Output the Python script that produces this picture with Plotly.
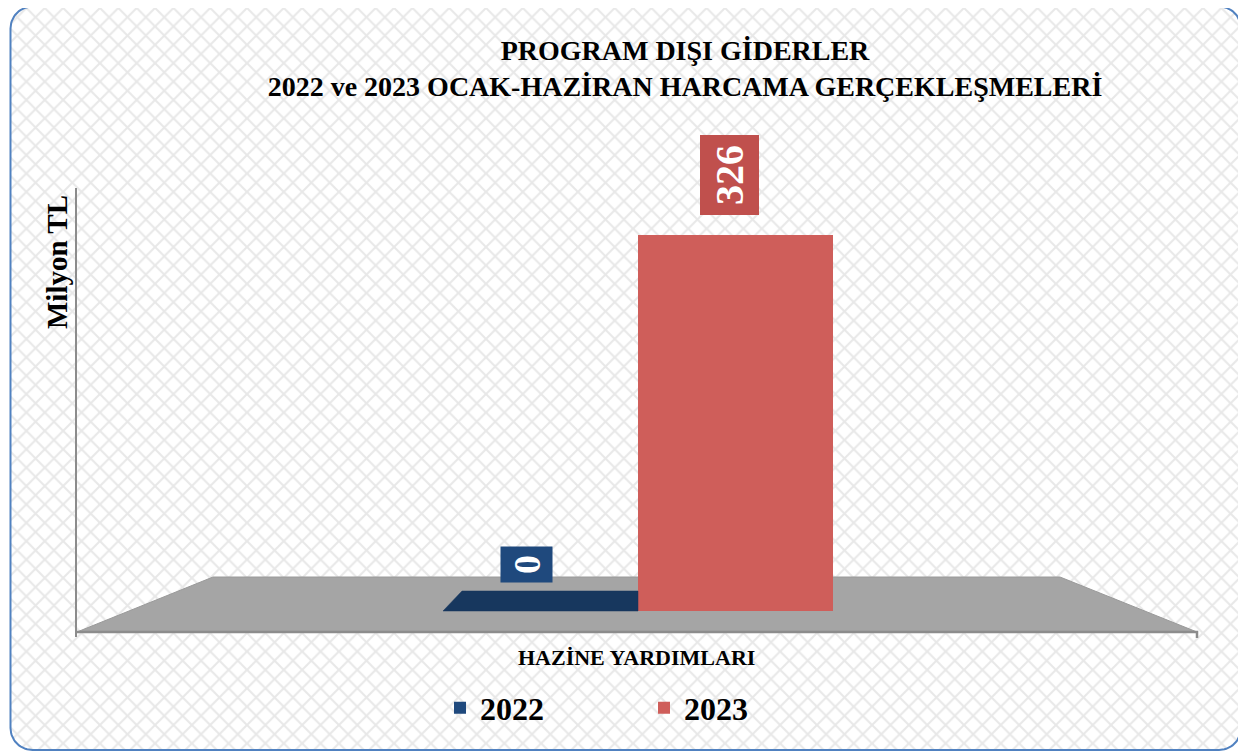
import numpy as np
import plotly.graph_objects as go

# ---------------- data ----------------
categories = ["HAZİNE YARDIMLARI"]
series_names = ["2022", "2023"]
values_2022 = [0]
values_2023 = [326]
title_lines = ["PROGRAM DIŞI GİDERLER", "2022 ve 2023 OCAK-HAZİRAN HARCAMA GERÇEKLEŞMELERİ"]
y_title = "Milyon TL"

# ---------------- geometry / style ----------------
OFF = 8                      # page body margin
W, H = 1246 - OFF, 751 - OFF  # figure size
FONT = "Liberation Serif, Times New Roman, serif"
BLUE = "#1F497D"
BLUE_TOP = "#17375E"
RED = "#CF5E5A"
RED_LBL = "#C0504D"


def fx(p):  # page x -> paper
    return (p - OFF) / W


def fy(p):  # page y -> paper
    return 1 - (p - OFF) / H


# data axis mapping (x2/y2): bar width 1 unit = 195 px, category centre at page px 638
# value 0 at page px 611, value 326 at page px 235
PX_PER_X = 195.0
X0_PX = 638.0
Y0_PX = 611.0
PX_PER_Y = (611.0 - 235.0) / 326.0
x2_range = [(OFF - X0_PX) / PX_PER_X, (OFF + W - X0_PX) / PX_PER_X]
y2_range = [(Y0_PX - (OFF + H)) / PX_PER_Y, (Y0_PX - OFF) / PX_PER_Y]

fig = go.Figure()


def rounded_rect(l, t, r, b, rad, n=20):
    pts = []
    for cx, cy, a0 in [(r - rad, t + rad, -90), (r - rad, b - rad, 0), (l + rad, b - rad, 90), (l + rad, t + rad, 180)]:
        for a in np.linspace(a0, a0 + 90, n):
            pts.append((cx + rad * np.cos(np.radians(a)), cy + rad * np.sin(np.radians(a))))
    pts.append(pts[0])
    return [p[0] for p in pts], [p[1] for p in pts]


# background with rounded border (page-pixel axes x/y)
bx, by = rounded_rect(10.5, 6.5, 1241, 750, 22)
fig.add_trace(go.Scatter(
    x=bx, y=by, mode="lines", fill="toself", fillcolor="white",
    fillpattern=dict(shape="x", fgcolor="#D2D2D2", bgcolor="white", size=13, solidity=0.3),
    line=dict(color="#5081C0", width=2), hoverinfo="skip", showlegend=False,
    xaxis="x", yaxis="y"))

# floor
fig.add_trace(go.Scatter(
    x=[77, 213, 1060, 1197, 77], y=[632, 577, 577, 632, 632], mode="lines", fill="toself",
    fillcolor="#A5A5A5", line=dict(color="#9A9A9A", width=1), hoverinfo="skip", showlegend=False,
    xaxis="x", yaxis="y"))
fig.add_trace(go.Scatter(
    x=[77, 1197, 1197], y=[632, 632, 638], mode="lines",
    line=dict(color="#8C8C8C", width=2.5), hoverinfo="skip", showlegend=False, xaxis="x", yaxis="y"))
fig.add_trace(go.Scatter(
    x=[76, 76], y=[188, 637], mode="lines",
    line=dict(color="#8C8C8C", width=2), hoverinfo="skip", showlegend=False, xaxis="x", yaxis="y"))

# ---- data traces (x2/y2) ----
dxu = 19.0 / PX_PER_X
dyu = 20.0 / PX_PER_Y
v22 = values_2022[0]
# visible top face of the flat 2022 bar (clipped where the 2023 bar stands)
fig.add_trace(go.Scatter(
    x=[-1, 0, 0, -1 + dxu, -1], y=[v22, v22, v22 + dyu, v22 + dyu, v22],
    mode="lines", fill="toself", fillcolor=BLUE_TOP, line=dict(color=BLUE_TOP, width=0.5),
    hoverinfo="skip", showlegend=False, xaxis="x2", yaxis="y2"))

fig.add_trace(go.Bar(
    x=[0], y=values_2022, width=[1], offset=-1, name=series_names[0],
    marker=dict(color=BLUE, line=dict(width=0)), hoverinfo="skip", xaxis="x2", yaxis="y2"))
fig.add_trace(go.Bar(
    x=[0], y=values_2023, width=[1], offset=0, name=series_names[1],
    marker=dict(color=RED, line=dict(width=0)), hoverinfo="skip", xaxis="x2", yaxis="y2"))

annotations = [
    dict(x=-0.5, y=values_2022[0], xref="x2", yref="y2", text=f"<b>{values_2022[0]}</b>",
         showarrow=False, textangle=-90, xshift=-14, yshift=46.5,
         font=dict(family=FONT, size=38, color="white"), bgcolor=BLUE,
         width=27, height=43, borderpad=4),
    dict(x=0.5, y=values_2023[0], xref="x2", yref="y2", text=f"<b>{values_2023[0]}</b>",
         showarrow=False, textangle=-90, xshift=-6.5, yshift=59.5,
         font=dict(family=FONT, size=40, color="white"), bgcolor=RED_LBL,
         width=67, height=46, borderpad=6),
    dict(x=fx(636.5), y=fy(657), xref="paper", yref="paper", xanchor="center", yanchor="middle",
         text=f"<b>{categories[0]}</b>", showarrow=False,
         font=dict(family=FONT, size=22, color="black")),
    dict(x=fx(57), y=fy(262), xref="paper", yref="paper", xanchor="center", yanchor="middle",
         text=f"<b>{y_title}</b>", showarrow=False, textangle=-90,
         font=dict(family=FONT, size=29, color="black")),
]

fig.update_layout(
    width=W, height=H,
    margin=dict(l=0, r=0, t=0, b=0),
    paper_bgcolor="white", plot_bgcolor="rgba(0,0,0,0)",
    barmode="overlay",
    title=dict(text="<b>" + "<br>".join(title_lines) + "</b>", x=fx(685), xanchor="center",
               y=fy(60), yanchor="middle", yref="container",
               font=dict(family=FONT, size=28, color="black")),
    xaxis=dict(range=[OFF, OFF + W], domain=[0, 1], visible=False, fixedrange=True),
    yaxis=dict(range=[OFF + H, OFF], domain=[0, 1], visible=False, fixedrange=True),
    xaxis2=dict(range=x2_range, overlaying="x", anchor="y2", visible=False, fixedrange=True),
    yaxis2=dict(range=y2_range, overlaying="y", anchor="x2", visible=False, fixedrange=True),
    legend=dict(orientation="h", x=fx(440), xanchor="left", y=fy(708), yanchor="middle",
                bgcolor="rgba(0,0,0,0)", font=dict(family=FONT, size=32, color="black", weight="bold"),
                entrywidth=159, entrywidthmode="pixels", traceorder="normal"),
    annotations=annotations,
    showlegend=True,
)

fig.write_html("out.html")
